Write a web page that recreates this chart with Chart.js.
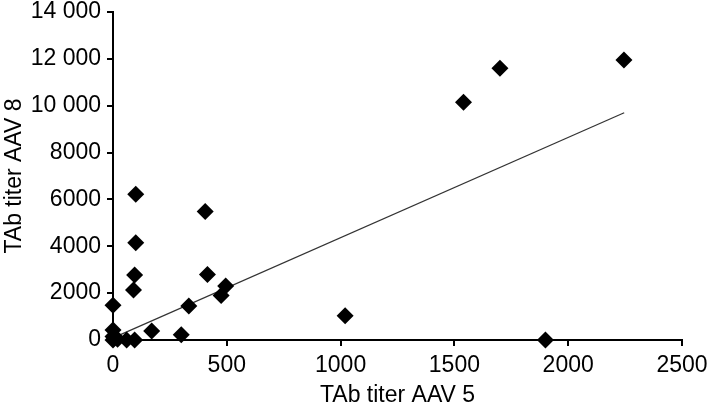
<!DOCTYPE html>
<html>
<head>
<meta charset="utf-8">
<script src="https://cdn.jsdelivr.net/npm/chart.js@4"></script>
<style>
  html, body { margin: 0; padding: 0; background: #fff; }
  #wrap { width: 709px; height: 412px; }
</style>
</head>
<body>
<div id="wrap"><canvas id="scatter" width="709" height="412"></canvas></div>
<script>
// values
const aav5 = [0, 0, 0, 0, 20, 60, 95, 90, 95, 100, 100, 170, 300, 333, 415, 405, 475, 495, 1020, 1540, 1700, 1900, 2245];
const aav8 = [1480, 430, 150, 0, 30, 0, 0, 2135, 2775, 4150, 6220, 380, 220, 1450, 2800, 5480, 1900, 2300, 1030, 10150, 11600, 0, 11950];

// trend line ends
const trendX = [28, 2246];
const trendY = [210, 9700];

const yTickLabels = ["0", "2000", "4000", "6000", "8000", "10 000", "12 000", "14 000"];
const xTickLabels = ["0", "500", "1000", "1500", "2000", "2500"];

const ctx = document.getElementById("scatter").getContext("2d");
const font = "'Liberation Sans', Arial, Helvetica, sans-serif";

new Chart(ctx, {
  type: "scatter",
  data: {
    datasets: [
      {
        data: trendX.map((x, i) => ({ x: x, y: trendY[i] })),
        showLine: true,
        borderColor: "#333",
        borderWidth: 1.2,
        pointRadius: 0,
        order: 2,
      },
      {
        data: aav5.map((x, i) => ({ x: x, y: aav8[i] })),
        pointStyle: "rectRot",
        pointRadius: 8.5,
        backgroundColor: "#000",
        borderColor: "#000",
        borderWidth: 0,
        clip: false,
        order: 1,
      },
    ],
  },
  options: {
    responsive: false,
    animation: false,
    layout: { padding: { top: 12, right: 27, bottom: 0, left: 0 } },
    plugins: { legend: { display: false }, tooltip: { enabled: false } },
    scales: {
      x: {
        type: "linear",
        min: 0,
        max: 2500,
        grid: { drawOnChartArea: false, drawTicks: true, tickLength: 6, color: "#000", lineWidth: 2 },
        border: { display: true, color: "#000", width: 2 },
        ticks: {
          stepSize: 500,
          color: "#000",
          padding: 6,
          font: { family: font, size: 23 },
          callback: (v, i) => xTickLabels[i],
        },
        title: {
          display: true,
          text: "TAb titer AAV 5",
          color: "#000",
          padding: { top: 0, bottom: 3 },
          font: { family: font, size: 23 },
        },
        afterFit: (scale) => {
          scale.height = 72;
          scale.paddingLeft = 0;
          scale.paddingRight = 0;
        },
      },
      y: {
        type: "linear",
        min: 0,
        max: 14000,
        grid: { drawOnChartArea: false, drawTicks: true, tickLength: 6, color: "#000", lineWidth: 2 },
        border: { display: true, color: "#000", width: 2 },
        ticks: {
          stepSize: 2000,
          color: "#000",
          padding: 6,
          font: { family: font, size: 23 },
          callback: (v, i) => yTickLabels[i],
        },
        title: {
          display: true,
          text: "TAb titer AAV 8",
          color: "#000",
          padding: { top: 1, bottom: 0 },
          font: { family: font, size: 23 },
        },
        afterFit: (scale) => {
          scale.width = 113;
          scale.paddingTop = 0;
          scale.paddingBottom = 0;
        },
      },
    },
  },
});
</script>
</body>
</html>
